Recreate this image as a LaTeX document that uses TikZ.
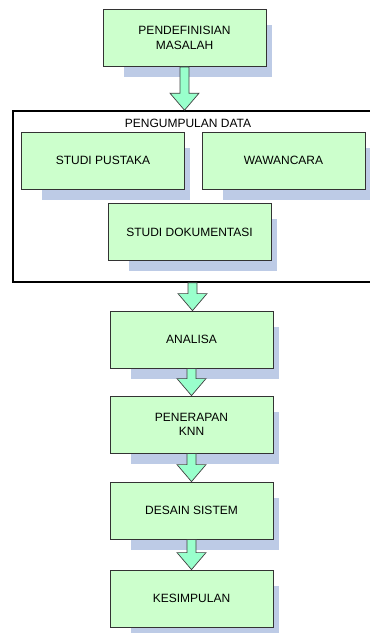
\documentclass[tikz,border=0pt]{standalone}
\usepackage{fontspec}
\setmainfont{Liberation Sans}
\usetikzlibrary{shadows,calc}
\definecolor{boxgreen}{RGB}{204,255,204}
\definecolor{shadowblue}{RGB}{189,203,230}
\definecolor{arrowmint}{RGB}{153,255,204}

% block arrow from the bottom of one node to the top of the next
\newcommand{\flowarrow}[2]{%
  \filldraw[blockarrow] let \p1=(#1), \p2=(#2) in
    (\x1-4.5pt,\y1) -- (\x1-4.5pt,\y2+17pt) -- (\x1-14.5pt,\y2+17pt) -- (\x1,\y2)
    -- (\x1+14.5pt,\y2+17pt) -- (\x1+4.5pt,\y2+17pt) -- (\x1+4.5pt,\y1) -- cycle;}

\begin{document}
\begin{tikzpicture}[x=1pt,y=-1pt,
    every node/.style={font=\fontsize{12}{14.5}\selectfont},
    stage/.style={rectangle,draw=black!80,fill=boxgreen,line width=0.8pt,
      minimum width=163pt,minimum height=57pt,align=center,inner sep=0pt,
      general shadow={fill=shadowblue,shadow scale=0.91,
        shadow xshift=14.5pt,shadow yshift=-14.5pt}},
    blockarrow/.style={draw=black!75,fill=arrowmint,line width=0.7pt,line join=miter}]
  \useasboundingbox (0,0) rectangle (370,633);

  % frame round the data collection steps
  \node[draw,line width=1.6pt,minimum width=359pt,minimum height=171pt,inner sep=0pt]
    (data) at (192.5,196.5) {};
  \node (datatitle) at (188,123.5) {PENGUMPULAN DATA};

  \node[stage] (masalah) at (184.5,38) {PENDEFINISIAN\\MASALAH};
  \node[stage] (pustaka) at (103,160.5) {STUDI PUSTAKA};
  \node[stage] (wawancara) at (283.5,160.5) {WAWANCARA};
  \node[stage] (dokumentasi) at (189.5,232) {STUDI DOKUMENTASI};
  \node[stage] (analisa) at (191.5,339.5) {ANALISA};
  \node[stage] (knn) at (191.5,424.5) {PENERAPAN\\KNN};
  \node[stage] (desain) at (191.5,510.5) {DESAIN SISTEM};
  \node[stage] (kesimpulan) at (191.5,598.5) {KESIMPULAN};

  \flowarrow{masalah.south}{data.north}
  \flowarrow{data.south}{analisa.north}
  \flowarrow{analisa.south}{knn.north}
  \flowarrow{knn.south}{desain.north}
  \flowarrow{desain.south}{kesimpulan.north}
\end{tikzpicture}
\end{document}
